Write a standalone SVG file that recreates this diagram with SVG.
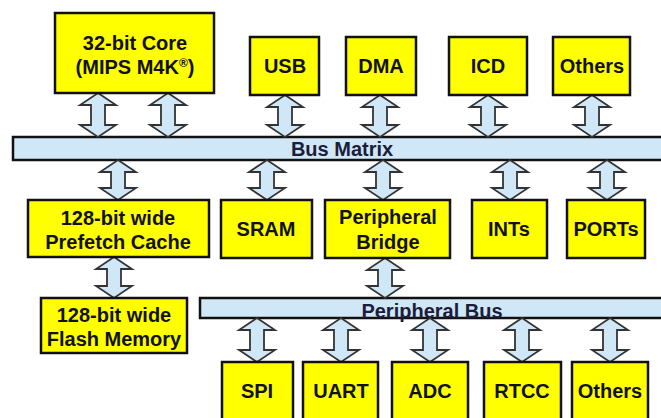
<svg xmlns="http://www.w3.org/2000/svg" width="661" height="418" viewBox="0 0 661 418">
<style>
.box{fill:#ffff00;stroke:#111;stroke-width:2.5}
.bus{fill:#cfe7f7;stroke:#111;stroke-width:2.5}
.arr{fill:#cfe7f7;stroke:#333;stroke-width:1.8;stroke-linejoin:miter}
.t{font-family:"Liberation Sans",Arial,sans-serif;font-weight:bold;font-size:20px;fill:#111;text-anchor:middle}
.bt{font-family:"Liberation Sans",Arial,sans-serif;font-weight:bold;font-size:20px;fill:#1c1c3c;text-anchor:middle}
</style>
<rect width="661" height="418" fill="#fff"/>
<g id="bus-matrix"><rect class="bus" x="13" y="137" width="660" height="23"/><text class="bt" x="342" y="156">Bus Matrix</text></g>
<g id="peripheral-bus"><rect class="bus" x="200" y="298" width="470" height="20"/><text class="bt" x="432" y="318">Peripheral Bus</text></g>
<g id="connectors">
<path class="arr" d="M98,93 L116,105 L105,105 L105,125 L116,125 L98,137 L80,125 L91,125 L91,105 L80,105 Z"/>
<path class="arr" d="M168,93 L186,105 L175,105 L175,125 L186,125 L168,137 L150,125 L161,125 L161,105 L150,105 Z"/>
<path class="arr" d="M285,95 L303,107 L292,107 L292,125 L303,125 L285,137 L267,125 L278,125 L278,107 L267,107 Z"/>
<path class="arr" d="M380,95 L398,107 L387,107 L387,125 L398,125 L380,137 L362,125 L373,125 L373,107 L362,107 Z"/>
<path class="arr" d="M488,95 L506,107 L495,107 L495,125 L506,125 L488,137 L470,125 L481,125 L481,107 L470,107 Z"/>
<path class="arr" d="M592,95 L610,107 L599,107 L599,125 L610,125 L592,137 L574,125 L585,125 L585,107 L574,107 Z"/>
<path class="arr" d="M118,160 L136,172 L125,172 L125,188 L136,188 L118,200 L100,188 L111,188 L111,172 L100,172 Z"/>
<path class="arr" d="M267,160 L285,172 L274,172 L274,188 L285,188 L267,200 L249,188 L260,188 L260,172 L249,172 Z"/>
<path class="arr" d="M383,160 L401,172 L390,172 L390,188 L401,188 L383,200 L365,188 L376,188 L376,172 L365,172 Z"/>
<path class="arr" d="M510,160 L528,172 L517,172 L517,188 L528,188 L510,200 L492,188 L503,188 L503,172 L492,172 Z"/>
<path class="arr" d="M607,160 L625,172 L614,172 L614,188 L625,188 L607,200 L589,188 L600,188 L600,172 L589,172 Z"/>
<path class="arr" d="M114,257 L132,269 L121,269 L121,286 L132,286 L114,298 L96,286 L107,286 L107,269 L96,269 Z"/>
<path class="arr" d="M385,258 L403,270 L392,270 L392,286 L403,286 L385,298 L367,286 L378,286 L378,270 L367,270 Z"/>
<path class="arr" d="M257,318 L275,330 L264,330 L264,350 L275,350 L257,362 L239,350 L250,350 L250,330 L239,330 Z"/>
<path class="arr" d="M341,318 L359,330 L348,330 L348,350 L359,350 L341,362 L323,350 L334,350 L334,330 L323,330 Z"/>
<path class="arr" d="M430,318 L448,330 L437,330 L437,350 L448,350 L430,362 L412,350 L423,350 L423,330 L412,330 Z"/>
<path class="arr" d="M522,318 L540,330 L529,330 L529,350 L540,350 L522,362 L504,350 L515,350 L515,330 L504,330 Z"/>
<path class="arr" d="M610,318 L628,330 L617,330 L617,350 L628,350 L610,362 L592,350 L603,350 L603,330 L592,330 Z"/>
</g>
<g id="core"><rect class="box" x="55" y="13" width="159" height="80"/><text class="t" x="135" y="50">32-bit Core</text><text class="t" x="135" y="74">(MIPS M4K<tspan font-size="12" dy="-7">®</tspan><tspan dy="7">)</tspan></text></g>
<g id="usb"><rect class="box" x="250" y="37" width="69" height="58"/><text class="t" x="285" y="73">USB</text></g>
<g id="dma"><rect class="box" x="346" y="37" width="70" height="58"/><text class="t" x="381" y="73">DMA</text></g>
<g id="icd"><rect class="box" x="449" y="37" width="78" height="58"/><text class="t" x="488" y="73">ICD</text></g>
<g id="others1"><rect class="box" x="553" y="37" width="77" height="58"/><text class="t" x="592" y="73">Others</text></g>
<g id="cache"><rect class="box" x="28" y="200" width="181" height="57"/><text class="t" x="118" y="225">128-bit wide</text><text class="t" x="118" y="249">Prefetch Cache</text></g>
<g id="sram"><rect class="box" x="221" y="200" width="91" height="58"/><text class="t" x="266" y="236">SRAM</text></g>
<g id="bridge"><rect class="box" x="325" y="200" width="125" height="58"/><text class="t" x="388" y="224">Peripheral</text><text class="t" x="388" y="249">Bridge</text></g>
<g id="ints"><rect class="box" x="472" y="200" width="75" height="58"/><text class="t" x="509" y="236">INTs</text></g>
<g id="ports"><rect class="box" x="567" y="200" width="78" height="58"/><text class="t" x="606" y="236">PORTs</text></g>
<g id="flash"><rect class="box" x="41" y="298" width="146" height="55"/><text class="t" x="114" y="322">128-bit wide</text><text class="t" x="114" y="346">Flash Memory</text></g>
<g id="spi"><rect class="box" x="222" y="362" width="71" height="60"/><text class="t" x="257" y="398">SPI</text></g>
<g id="uart"><rect class="box" x="303" y="362" width="75" height="60"/><text class="t" x="341" y="398">UART</text></g>
<g id="adc"><rect class="box" x="392" y="362" width="76" height="60"/><text class="t" x="430" y="398">ADC</text></g>
<g id="rtcc"><rect class="box" x="484" y="362" width="77" height="60"/><text class="t" x="522" y="398">RTCC</text></g>
<g id="others2"><rect class="box" x="572" y="362" width="76" height="60"/><text class="t" x="610" y="398">Others</text></g>
</svg>
